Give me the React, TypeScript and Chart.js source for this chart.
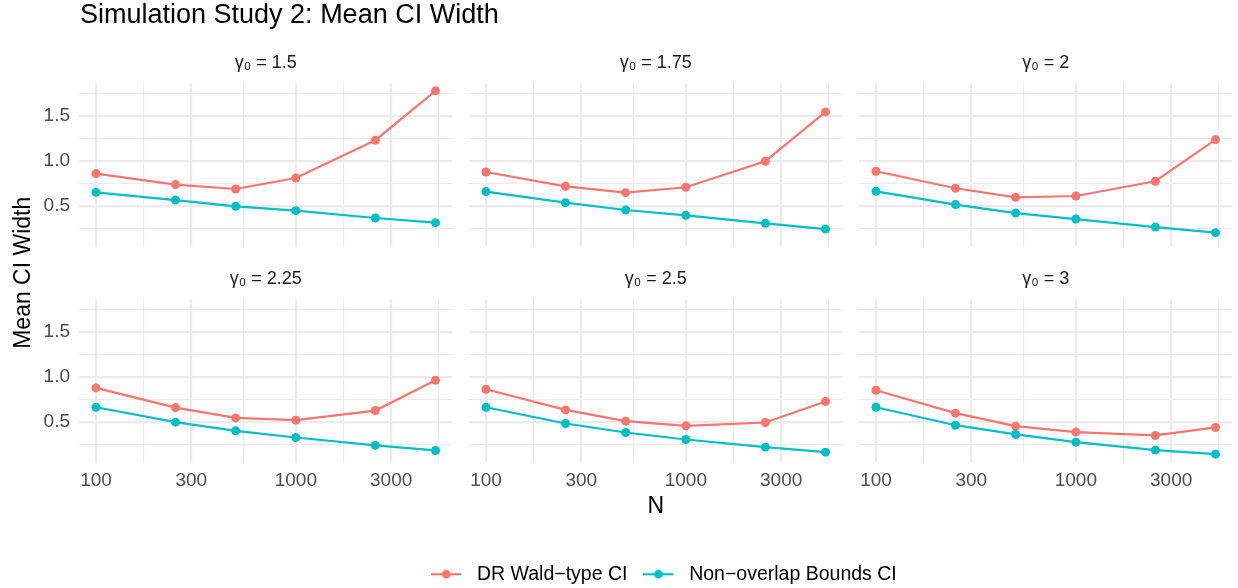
import React, { useEffect, useRef } from 'react';
import { Chart, registerables } from 'chart.js';

Chart.register(...registerables);

const FONT = "'Liberation Sans', Arial, Helvetica, sans-serif";
Chart.defaults.font.family = FONT;

const RED = '#F8766D';
const CYAN = '#00BFC4';
const GRID = '#EBEBEB';

// ---------- data ----------
const sampleSizes = [100, 250, 500, 1000, 2500, 5000];
const gammaValues = ['1.5', '1.75', '2', '2.25', '2.5', '3'];
const seriesNames = ['DR Wald\u2212type CI', 'Non\u2212overlap Bounds CI'];

const drWald_g150 = [0.859, 0.737, 0.688, 0.810, 1.231, 1.780];
const drWald_g175 = [0.877, 0.718, 0.647, 0.707, 0.997, 1.546];
const drWald_g200 = [0.885, 0.696, 0.595, 0.610, 0.774, 1.238];
const drWald_g225 = [0.878, 0.659, 0.544, 0.519, 0.626, 0.963];
const drWald_g250 = [0.863, 0.633, 0.508, 0.456, 0.493, 0.727];
const drWald_g300 = [0.852, 0.597, 0.452, 0.386, 0.349, 0.438];

const nonOverlap_g150 = [0.651, 0.565, 0.495, 0.447, 0.365, 0.313];
const nonOverlap_g175 = [0.659, 0.536, 0.454, 0.395, 0.306, 0.242];
const nonOverlap_g200 = [0.662, 0.514, 0.420, 0.353, 0.264, 0.202];
const nonOverlap_g225 = [0.663, 0.497, 0.400, 0.326, 0.238, 0.182];
const nonOverlap_g250 = [0.663, 0.482, 0.382, 0.304, 0.219, 0.163];
const nonOverlap_g300 = [0.663, 0.463, 0.360, 0.274, 0.186, 0.141];

const xMajorTicks = [100, 300, 1000, 3000];
const yMajorTicks = [0.5, 1.0, 1.5];

const titleText = 'Simulation Study 2: Mean CI Width';
const xTitle = 'N';
const yTitle = 'Mean CI Width';

const drWaldSeries = [drWald_g150, drWald_g175, drWald_g200, drWald_g225, drWald_g250, drWald_g300];
const nonOverlapSeries = [nonOverlap_g150, nonOverlap_g175, nonOverlap_g200, nonOverlap_g225, nonOverlap_g250, nonOverlap_g300];

// ---------- scale ranges (ggplot-like 5% expansion) ----------
const lxMin = Math.log10(Math.min(...sampleSizes));
const lxMax = Math.log10(Math.max(...sampleSizes));
const lxPad = (lxMax - lxMin) * 0.05;
const X_MIN = Math.pow(10, lxMin - lxPad);
const X_MAX = Math.pow(10, lxMax + lxPad);

const allY = [...drWaldSeries.flat(), ...nonOverlapSeries.flat()];
const yLo = Math.min(...allY);
const yHi = Math.max(...allY);
const Y_MIN = yLo - (yHi - yLo) * 0.05;
const Y_MAX = yHi + (yHi - yLo) * 0.05;

// minor breaks: midpoints (in transformed space) between majors, extended one step each side
function xMinorTicks() {
  const m = xMajorTicks;
  const ext = [m[0] * m[0] / m[1], ...m, m[m.length - 1] * m[m.length - 1] / m[m.length - 2]];
  const out: number[] = [];
  for (let i = 0; i < ext.length - 1; i++) out.push(Math.sqrt(ext[i] * ext[i + 1]));
  return out.filter(v => v >= X_MIN && v <= X_MAX);
}
function yMinorTicks() {
  const m = yMajorTicks;
  const step = m[1] - m[0];
  const ext = [m[0] - step, ...m, m[m.length - 1] + step];
  const out: number[] = [];
  for (let i = 0; i < ext.length - 1; i++) out.push((ext[i] + ext[i + 1]) / 2);
  return out.filter(v => v >= Y_MIN && v <= Y_MAX);
}
const X_TICKS = [...xMajorTicks, ...xMinorTicks()].sort((a, b) => a - b);
const Y_TICKS = [...yMajorTicks, ...yMinorTicks()].sort((a, b) => a - b);
const isXMajor = (v: number) => xMajorTicks.some(m => Math.abs(m - v) < 1e-6);
const isYMajor = (v: number) => yMajorTicks.some(m => Math.abs(m - v) < 1e-9);

// ---------- layout ----------
const COL_LEFT = [79, 469, 859];
const ROW_TOP = [83.5, 299.5];
const PANEL_W = 378;
const PANEL_H = 162;
const YW = 60;
const TH = 39.5;
const XH = [24.5, 61.5];

function makeKeyImage(color: string) {
  const c = document.createElement('canvas');
  c.width = 36;
  c.height = 12;
  const g = c.getContext('2d')!;
  g.strokeStyle = color;
  g.lineWidth = 2.2;
  g.beginPath();
  g.moveTo(0, 6);
  g.lineTo(30, 6);
  g.stroke();
  g.fillStyle = color;
  g.beginPath();
  g.arc(15, 6, 4.4, 0, Math.PI * 2);
  g.fill();
  return c;
}

function makePanel(canvas: HTMLCanvasElement, idx: number) {
  const row = Math.floor(idx / 3);
  const col = idx % 3;
  const isBottom = row === 1;
  const isLeft = col === 0;
  const showN = idx === 4;
  const mk = (vals: number[]) => sampleSizes.map((n, i) => ({ x: n, y: vals[i] }));
  const ds = (label: string, vals: number[], color: string) => ({
    label,
    data: mk(vals),
    borderColor: color,
    backgroundColor: color,
    pointBackgroundColor: color,
    pointBorderColor: color,
    pointBorderWidth: 0,
    pointRadius: 4.5,
    borderWidth: 2.2,
    tension: 0,
    clip: false as any,
  });
  return new Chart(canvas, {
    type: 'line',
    data: {
      datasets: [
        ds(seriesNames[1], nonOverlapSeries[idx], CYAN),
        ds(seriesNames[0], drWaldSeries[idx], RED),
      ],
    },
    options: {
      responsive: false,
      animation: false,
      events: [],
      layout: { padding: 0 },
      plugins: {
        legend: { display: false },
        tooltip: { enabled: false },
        title: {
          display: true,
          fullSize: false,
          text: `\u03B3\u2080 = ${gammaValues[idx]}`,
          color: '#1A1A1A',
          font: { family: FONT, size: 18, weight: 'normal', lineHeight: 1.2 },
          padding: { top: 8, bottom: 9.9 },
        },
      },
      scales: {
        x: {
          type: 'logarithmic',
          min: X_MIN,
          max: X_MAX,
          afterBuildTicks: (s: any) => {
            s.ticks = X_TICKS.map(v => ({ value: v }));
          },
          afterFit: (s: any) => {
            s.height = XH[row];
          },
          ticks: {
            display: isBottom,
            autoSkip: false,
            maxRotation: 0,
            minRotation: 0,
            padding: 8,
            color: '#4D4D4D',
            font: { family: FONT, size: 19, lineHeight: 1.2 },
            callback: (v: any) => (isXMajor(Number(v)) ? String(Math.round(Number(v))) : ''),
          },
          grid: {
            drawTicks: false,
            color: GRID,
            lineWidth: (c: any) => (c.tick && isXMajor(c.tick.value) ? 2.2 : 1.1),
          },
          border: { display: false },
          title: {
            display: showN,
            text: xTitle,
            color: '#000',
            font: { family: FONT, size: 23, lineHeight: 1.2 },
            padding: { top: 0, bottom: 2.2 },
          },
        },
        y: {
          type: 'linear',
          min: Y_MIN,
          max: Y_MAX,
          afterBuildTicks: (s: any) => {
            s.ticks = Y_TICKS.map(v => ({ value: v }));
          },
          afterFit: (s: any) => {
            s.width = YW;
          },
          ticks: {
            display: isLeft,
            autoSkip: false,
            padding: 9,
            color: '#4D4D4D',
            font: { family: FONT, size: 19, lineHeight: 1.2 },
            callback: (v: any) => (isYMajor(Number(v)) ? Number(v).toFixed(1) : ''),
          },
          grid: {
            drawTicks: false,
            color: GRID,
            lineWidth: (c: any) => (c.tick && isYMajor(c.tick.value) ? 2.2 : 1.1),
          },
          border: { display: false },
        },
      },
    } as any,
  });
}

export default function App() {
  const frameRef = useRef<HTMLCanvasElement | null>(null);
  const legendRef = useRef<HTMLCanvasElement | null>(null);
  const panelRefs = useRef<(HTMLCanvasElement | null)[]>([]);

  useEffect(() => {
    const charts: Chart[] = [];

    charts.push(
      new Chart(frameRef.current!, {
        type: 'line',
        data: { datasets: [] },
        options: {
          responsive: false,
          animation: false,
          events: [],
          layout: { padding: 0 },
          plugins: {
            legend: { display: false },
            tooltip: { enabled: false },
            title: {
              display: true,
              fullSize: false,
              align: 'start',
              text: titleText,
              color: '#000',
              font: { family: FONT, size: 27, weight: 'normal', lineHeight: 1 },
              padding: { top: 2.5, bottom: 54 },
            },
          },
          scales: {
            x: { display: false },
            y: {
              display: true,
              afterFit: (s: any) => {
                s.width = 80;
              },
              ticks: { display: false },
              grid: { display: false, drawTicks: false },
              border: { display: false },
              title: {
                display: true,
                text: yTitle,
                color: '#000',
                font: { family: FONT, size: 23, lineHeight: 1.2 },
                padding: { top: 9.7, bottom: 0 },
              },
            },
          },
        } as any,
      })
    );

    panelRefs.current.forEach((c, i) => {
      if (c) charts.push(makePanel(c, i));
    });

    const keyImages = [makeKeyImage(RED), makeKeyImage(CYAN)];
    charts.push(
      new Chart(legendRef.current!, {
        type: 'line',
        data: {
          datasets: [
            { label: seriesNames[0], data: [], borderColor: RED, backgroundColor: RED },
            { label: seriesNames[1], data: [], borderColor: CYAN, backgroundColor: CYAN },
          ],
        },
        options: {
          responsive: false,
          animation: false,
          events: [],
          layout: { padding: { top: 20.5, left: 0, right: 0, bottom: 0 } },
          scales: { x: { display: false }, y: { display: false } },
          plugins: {
            tooltip: { enabled: false },
            title: { display: false },
            legend: {
              display: true,
              position: 'top',
              labels: {
                usePointStyle: true,
                pointStyleWidth: 36,
                padding: 16,
                color: '#000',
                font: { family: FONT, size: 19.5 },
                generateLabels: (chart: any) =>
                  chart.data.datasets.map((d: any, i: number) => ({
                    text: d.label,
                    pointStyle: keyImages[i],
                    fillStyle: d.borderColor,
                    strokeStyle: d.borderColor,
                    lineWidth: 0,
                    hidden: false,
                    datasetIndex: i,
                  })),
              },
            },
          },
        } as any,
      })
    );

    return () => charts.forEach(ch => ch.destroy());
  }, []);

  const panelCanvases = gammaValues.map((g, i) => {
    const row = Math.floor(i / 3);
    const col = i % 3;
    const left = COL_LEFT[col] - YW;
    const top = ROW_TOP[row] - TH;
    const w = YW + PANEL_W;
    const h = TH + PANEL_H + XH[row];
    return (
      <canvas
        key={g}
        ref={el => {
          panelRefs.current[i] = el;
        }}
        width={w}
        height={h}
        style={{ position: 'absolute', left, top, width: w, height: h }}
      />
    );
  });

  return (
    <div
      style={{
        position: 'fixed',
        left: 0,
        top: 0,
        width: 1238,
        height: 588,
        overflow: 'hidden',
        background: '#ffffff',
      }}
    >
      <canvas
        ref={frameRef}
        width={1238}
        height={462}
        style={{ position: 'absolute', left: 0, top: 0, width: 1238, height: 462 }}
      />
      {panelCanvases}
      <canvas
        ref={legendRef}
        width={1000}
        height={120}
        style={{ position: 'absolute', left: 164, top: 528, width: 1000, height: 120 }}
      />
    </div>
  );
}
